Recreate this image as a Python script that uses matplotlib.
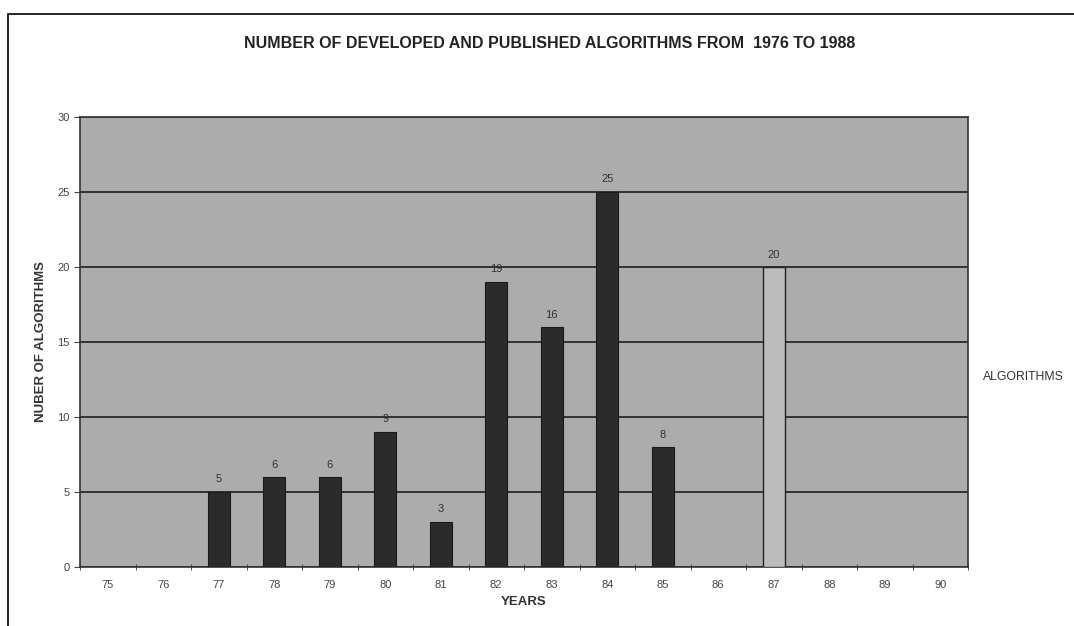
import numpy as np
import matplotlib.pyplot as plt
from matplotlib.patches import Rectangle

plt.rcParams['font.family'] = ['Liberation Sans', 'DejaVu Sans']

# Du lieu
years = ['75', '76', '77', '78', '79', '80', '81', '82', '83', '84', '85', '86', '87', '88', '89', '90']
algorithms = [0, 0, 5, 6, 6, 9, 3, 19, 16, 25, 8, 0, 20, 0, 0, 0]
bar_labels = ['', '', '5', '6', '6', '9', '3', '19', '16', '25', '8', '', '20', '', '', '']
light_years = ['87']

fig = plt.figure(figsize=(10.74, 6.26), dpi=100)
fig.patch.set_facecolor('white')

# Khung ngoai
fig.patches.append(Rectangle((8 / 1074, -0.05), 1.2, 1 - 14 / 626 + 0.05,
                             transform=fig.transFigure, fill=False,
                             edgecolor='black', linewidth=1.2))

ax = fig.add_axes([80 / 1074, 1 - 567 / 626, 888 / 1074, 450 / 626])
ax.set_facecolor('#acacac')

x = np.arange(len(years))
for i, (yr, v) in enumerate(zip(years, algorithms)):
    if v == 0:
        continue
    if yr in light_years:
        ax.bar(i, v, width=0.4, color='#bcbcbc', edgecolor='#222222', linewidth=1.0, zorder=3)
    else:
        ax.bar(i, v, width=0.4, color='#2b2b2b', edgecolor='#1a1a1a', linewidth=0.8, zorder=3)
    ax.text(i, v + 0.5, bar_labels[i], ha='center', va='bottom', fontsize=8, color='#333333', zorder=4)

ax.set_xlim(-0.5, len(years) - 0.5)
ax.set_ylim(0, 30)
ax.set_yticks(np.arange(0, 31, 5))
ax.set_xticks(x)
ax.set_xticklabels(years)
ax.set_xticks(np.arange(-0.5, len(years), 1), minor=True)
ax.tick_params(axis='x', which='major', length=0, labelsize=8, colors='#444444', pad=9)
ax.tick_params(axis='x', which='minor', length=4, direction='inout', color='#333333')
ax.tick_params(axis='y', length=4, labelsize=8, colors='#444444', direction='out')
ax.yaxis.grid(True, color='#111111', linewidth=1.1, zorder=1)
ax.set_axisbelow(True)
for s in ax.spines.values():
    s.set_color('#333333')
    s.set_linewidth(1.2)

ax.set_xlabel('YEARS', fontsize=9.5, fontweight='bold', color='#333333', labelpad=5)
ax.set_ylabel('NUBER OF ALGORITHMS', fontsize=9.5, fontweight='bold', color='#333333', labelpad=7)

fig.text(550 / 1074, 1 - 43 / 626, 'NUMBER OF DEVELOPED AND PUBLISHED ALGORITHMS FROM  1976 TO 1988',
         ha='center', va='center', fontsize=11.5, fontweight='bold', color='#222222')
fig.text(983 / 1074, 1 - 377 / 626, 'ALGORITHMS', ha='left', va='center', fontsize=8.8, color='#333333')

fig.savefig('out.png', dpi=100)
